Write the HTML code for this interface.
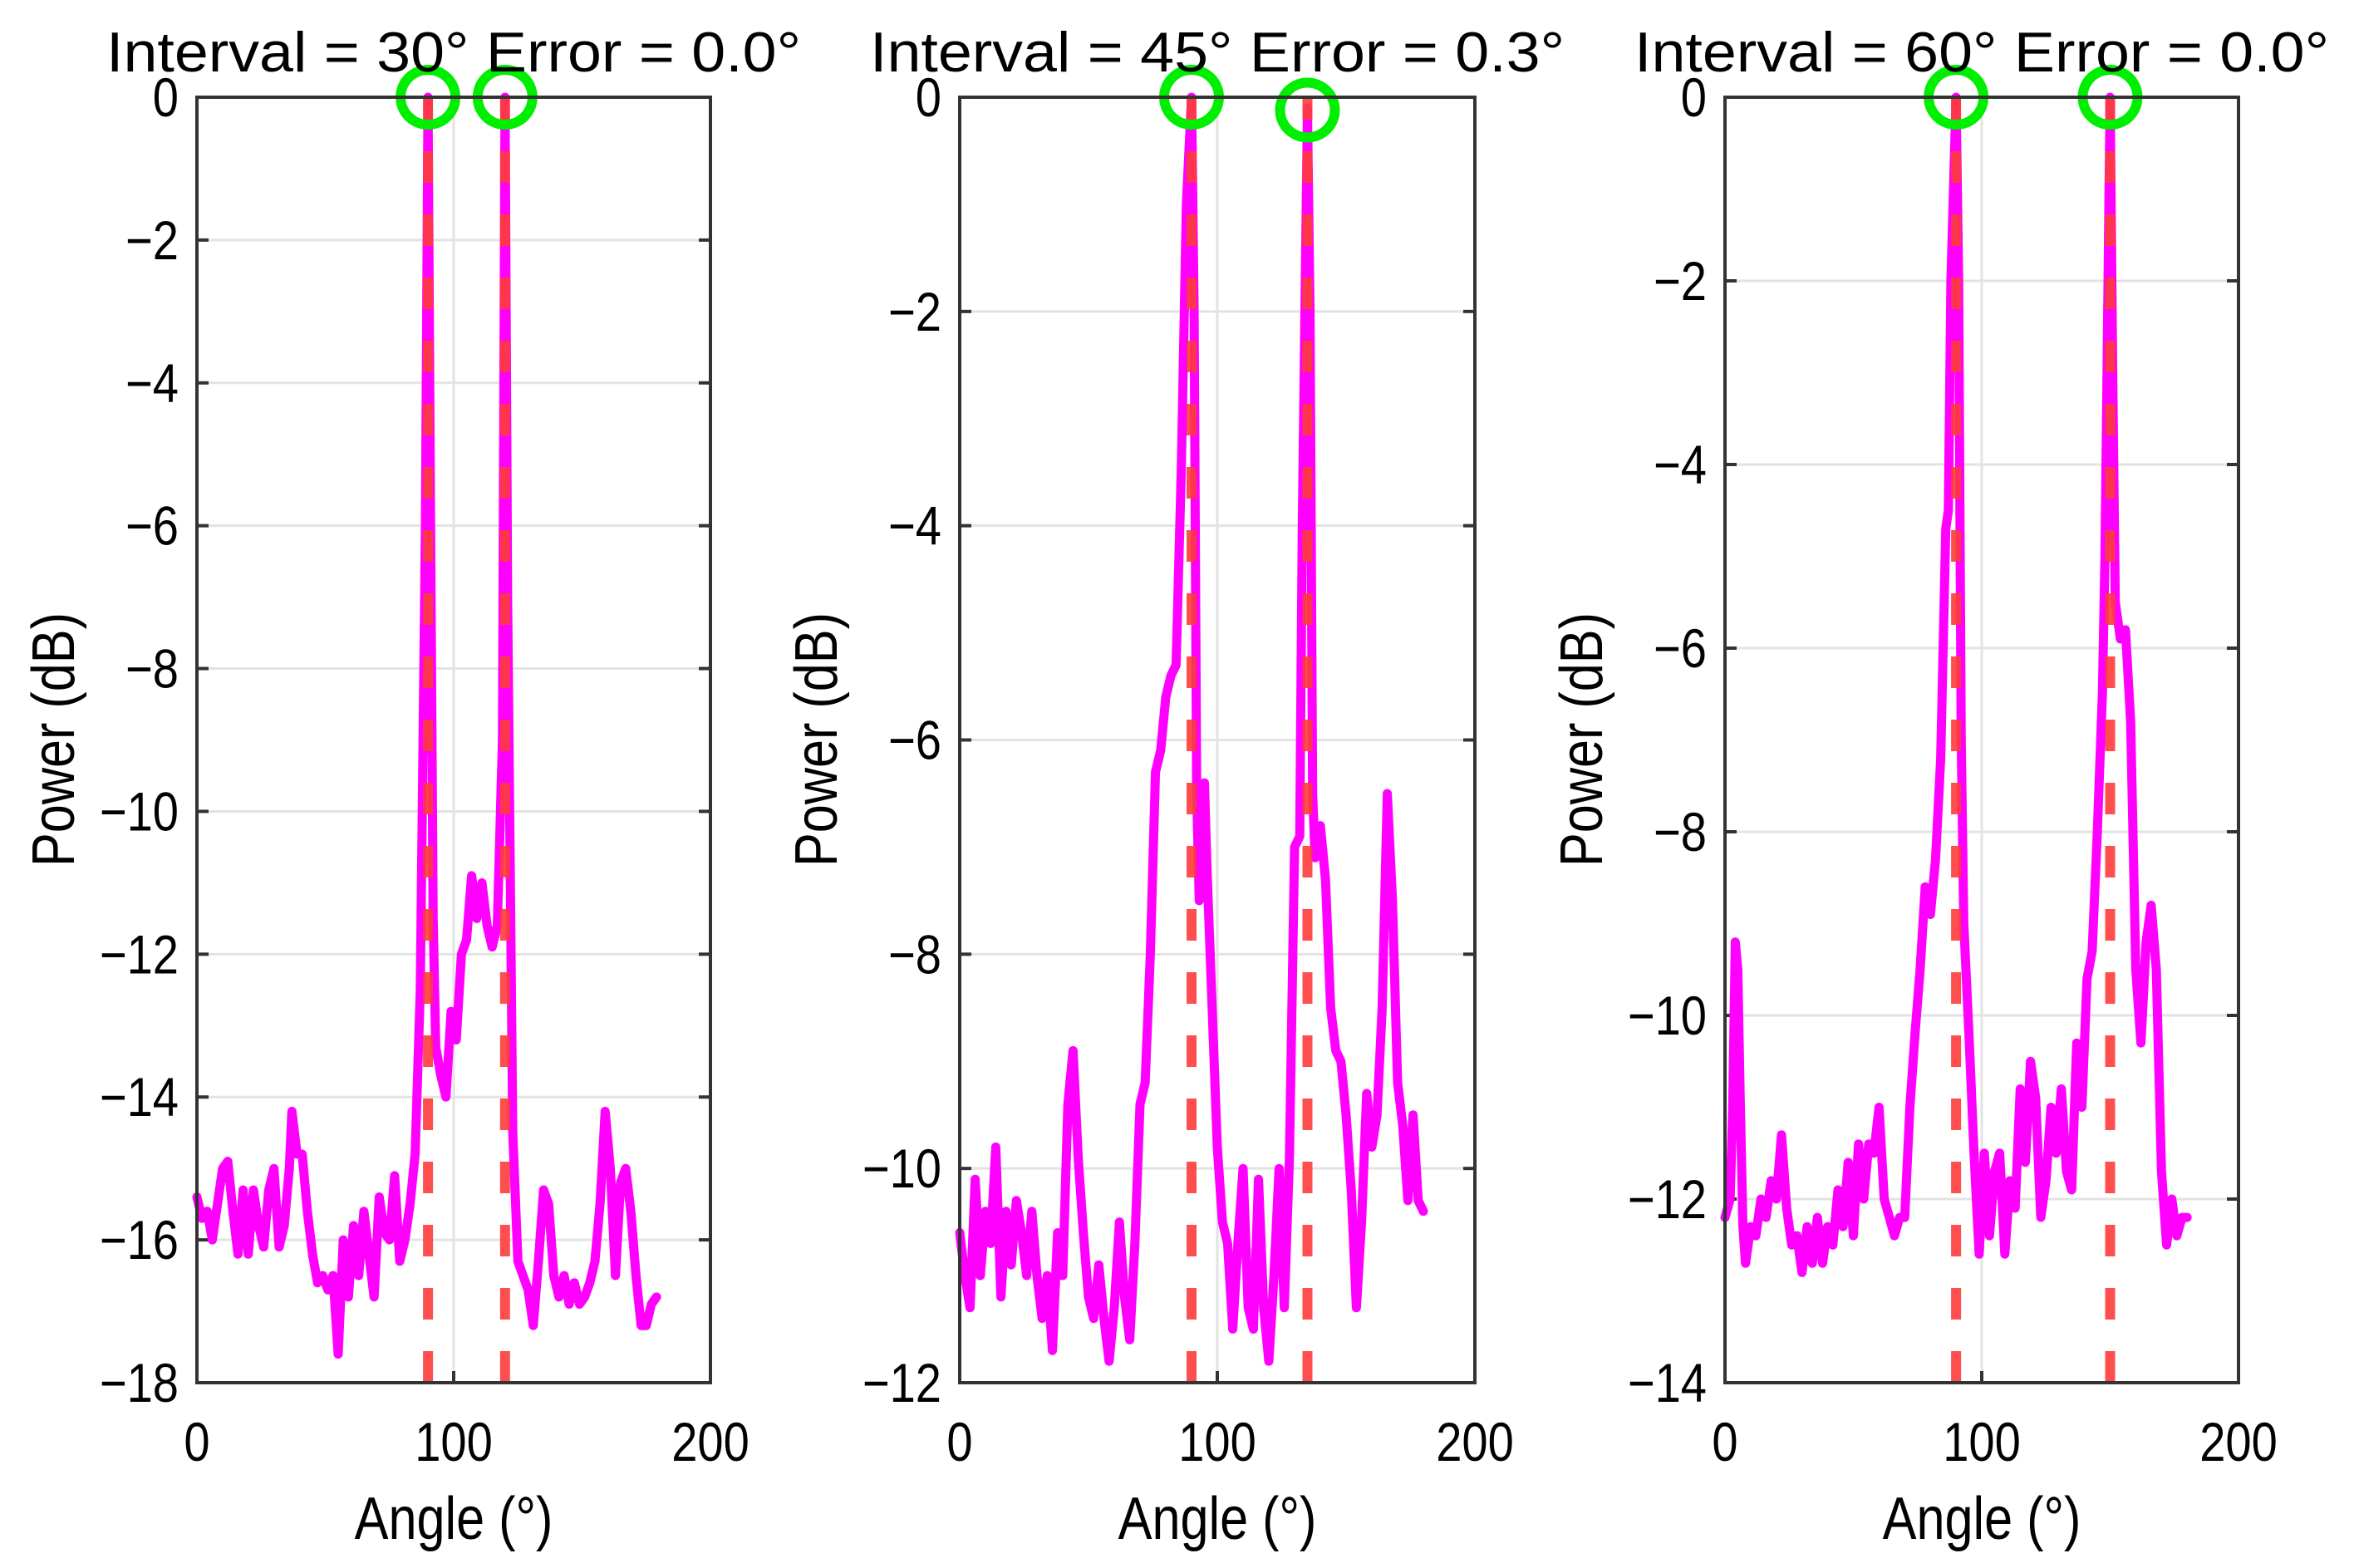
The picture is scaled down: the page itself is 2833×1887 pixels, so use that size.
<!DOCTYPE html>
<html><head><meta charset="utf-8"><style>
html,body{margin:0;padding:0;background:#fff;}
svg{display:block;}
text{font-family:"Liberation Sans",Arial,sans-serif;fill:#000;}
</style></head>
<body>
<svg id="fig" width="2833" height="1887" viewBox="0 0 2833 1887" xmlns="http://www.w3.org/2000/svg"></svg>
<script>
// ---- data ----
const xTicks = [0, 100, 200];
const titles = ["Interval = 30°  Error = 0.0°", "Interval = 45°  Error = 0.3°", "Interval = 60°  Error = 0.0°"];
const yMins = [-18, -12, -14];
const trueAngles1 = [90, 120];
const trueAngles2 = [90, 135];
const trueAngles3 = [90, 150];
const estAngles1 = [90, 120];
const estPower1 = [0, 0];
const estAngles2 = [90, 135];
const estPower2 = [0, -0.12];
const estAngles3 = [90, 150];
const estPower3 = [0, 0];
const ang1 = [0,2,4,6,8,10,12,14,16,18,20,22,24,26,28,30,32,34,36,37,39,41,43,45,47,49,51,53,55,57,59,61,63,65,67,69,71,73,75,77,79,81,83,85,87,89,90,91,92,93,95,97,99,101,103,105,107,109,111,113,115,117,119,120,121,123,125,127,129,131,133,135,137,139,141,143,145,147,149,151,153,155,157,159,161,163,165,167,169,171,173,175,177,179];
const pow1 = [-15.4,-15.7,-15.6,-16.0,-15.5,-15.0,-14.9,-15.6,-16.2,-15.3,-16.2,-15.3,-15.8,-16.1,-15.3,-15.0,-16.1,-15.8,-15.0,-14.2,-14.8,-14.8,-15.6,-16.2,-16.6,-16.5,-16.7,-16.5,-17.6,-16.0,-16.8,-15.8,-16.5,-15.6,-16.2,-16.8,-15.4,-15.9,-16.0,-15.1,-16.3,-16.0,-15.5,-14.8,-12.5,-6,0,-6,-11.5,-13.3,-13.7,-14.0,-12.8,-13.2,-12.0,-11.8,-10.9,-11.5,-11.0,-11.6,-11.9,-11.6,-9,0,-7,-14.5,-16.3,-16.5,-16.7,-17.2,-16.3,-15.3,-15.5,-16.5,-16.8,-16.5,-16.9,-16.6,-16.9,-16.8,-16.6,-16.3,-15.5,-14.2,-15.0,-16.5,-15.2,-15.0,-15.6,-16.5,-17.2,-17.2,-16.9,-16.8];
const ang2 = [0,2,4,6,8,10,12,14,16,18,20,22,24,26,28,30,32,34,36,38,40,42,44,46,48,50,52,54,56,58,60,62,64,66,68,70,72,74,76,78,80,82,84,86,88,90,91,92,93,94,95,96,98,100,102,104,106,108,110,112,114,116,118,120,122,124,126,128,130,132,133,135,136,137,138,140,142,144,146,148,150,152,154,156,158,160,162,164,166,168,170,172,174,176,178,180];
const pow2 = [-10.6,-11.0,-11.3,-10.1,-11.0,-10.4,-10.7,-9.8,-11.2,-10.4,-10.9,-10.3,-10.6,-11.0,-10.4,-11.0,-11.4,-11.0,-11.7,-10.6,-11.0,-9.4,-8.9,-9.9,-10.6,-11.2,-11.4,-10.9,-11.4,-11.8,-11.3,-10.5,-11.2,-11.6,-10.7,-9.4,-9.2,-8.0,-6.3,-6.1,-5.6,-5.4,-5.3,-3.5,-1,0,-2,-6.5,-7.5,-6.7,-6.4,-7.2,-8.5,-9.8,-10.5,-10.7,-11.5,-10.7,-10.0,-11.3,-11.5,-10.1,-11.3,-11.8,-11.0,-10.0,-11.3,-9.9,-7.0,-6.9,-4,-0.1,-2,-6.5,-7.1,-6.8,-7.3,-8.5,-8.9,-9.0,-9.5,-10.2,-11.3,-10.5,-9.3,-9.8,-9.5,-8.5,-6.5,-7.5,-9.2,-9.6,-10.3,-9.5,-10.3,-10.4];
const ang3 = [0,2,3,4,5,6,7,8,10,12,14,16,18,20,22,24,26,28,30,32,34,36,38,40,42,44,46,48,50,52,54,56,58,60,62,64,66,68,70,72,74,76,78,80,82,84,86,87,88,90,91,92,93,95,97,99,101,103,105,107,109,111,113,115,117,119,121,123,125,127,129,131,133,135,137,139,141,143,145,147,148,150,151,152,154,156,158,160,162,164,166,168,170,172,174,176,178,180];
const pow3 = [-12.2,-12.0,-11,-9.2,-9.5,-11,-12.3,-12.7,-12.3,-12.4,-12.0,-12.2,-11.8,-12.0,-11.3,-12.1,-12.5,-12.4,-12.8,-12.3,-12.7,-12.2,-12.7,-12.3,-12.5,-11.9,-12.3,-11.6,-12.4,-11.4,-12.0,-11.4,-11.5,-11.0,-12.0,-12.2,-12.4,-12.2,-12.2,-11.0,-10.2,-9.5,-8.6,-8.9,-8.3,-7.2,-4.7,-4.5,-2,0,-2,-7,-9.0,-10.2,-11.5,-12.6,-11.5,-12.4,-11.7,-11.5,-12.6,-11.8,-12.1,-10.8,-11.6,-10.5,-10.9,-12.2,-11.8,-11.0,-11.5,-10.8,-11.7,-11.9,-10.3,-11.0,-9.6,-9.3,-8.0,-6.5,-5,0,-3,-5.5,-5.9,-5.8,-6.8,-9.5,-10.3,-9.2,-8.8,-9.5,-11.7,-12.5,-12.0,-12.4,-12.2,-12.2];

const panels = [
  {L:237,R:855,ang:ang1,pow:pow1,tr:trueAngles1,ea:estAngles1,ep:estPower1},
  {L:1155,R:1775,ang:ang2,pow:pow2,tr:trueAngles2,ea:estAngles2,ep:estPower2},
  {L:2076,R:2694,ang:ang3,pow:pow3,tr:trueAngles3,ea:estAngles3,ep:estPower3}
];
const T=117, B=1664;
const NS="http://www.w3.org/2000/svg";
const svg=document.getElementById('fig');
function mk(tag,attrs,parent){const e=document.createElementNS(NS,tag);for(const k in attrs)e.setAttribute(k,attrs[k]);(parent||svg).appendChild(e);return e;}
function txt(parent,x,y,size,anchor,str,rot){
  const tr='translate('+x+' '+y+')'+(rot?' rotate(-90)':'')+' scale(0.85 1)';
  const t=mk('text',{x:0,y:0,'font-size':size,'text-anchor':anchor,transform:tr},parent);
  t.textContent=str;
  return t;
}

panels.forEach((p,i)=>{
  const g=mk('g',{});
  
  
  const ymin=yMins[i];
  const xs=v=>p.L+(v-0)/200*(p.R-p.L);
  const ys=v=>T+(0-v)/(0-ymin)*(B-T);
  for(let v=0; v>=ymin; v-=2){
    const y=ys(v);
    const gl=mk('line',{x1:p.L,x2:p.R,y1:y,y2:y,stroke:'#e3e3e3','stroke-width':3},g);
    
    
    mk('line',{x1:p.L,x2:p.L+14,y1:y,y2:y,stroke:'#333','stroke-width':4},g);
    mk('line',{x1:p.R-14,x2:p.R,y1:y,y2:y,stroke:'#333','stroke-width':4},g);
    const t=txt(g,p.L-22,y+23,66,'end',(v<0?'\u2212':'')+Math.abs(v));
    
    
  }
  xTicks.forEach(v=>{
    const x=xs(v);
    if(v>0&&v<200){
      const gl=mk('line',{x1:x,x2:x,y1:T,y2:B,stroke:'#e3e3e3','stroke-width':3},g);
      
      
    }
    mk('line',{x1:x,x2:x,y1:B-14,y2:B,stroke:'#333','stroke-width':4},g);
    mk('line',{x1:x,x2:x,y1:T,y2:T+14,stroke:'#333','stroke-width':4},g);
    const t=txt(g,x,B+94,66,'middle',String(v));
    
    
  });
  const pts=p.ang.map((a,k)=>xs(a).toFixed(1)+','+ys(p.pow[k]).toFixed(1)).join(' ');
  const pl=mk('polyline',{points:pts,fill:'none',stroke:'#ff00ff','stroke-width':11,'stroke-linejoin':'round','stroke-linecap':'round'},g);
  
  
  p.tr.forEach(a=>{
    const l=mk('line',{x1:xs(a),x2:xs(a),y1:B,y2:T,stroke:'#ff3b3b','stroke-opacity':0.9,'stroke-width':12,'stroke-dasharray':'38 38'},g);
    
    
  });
  p.ea.forEach((a,k)=>{
    const c=mk('circle',{cx:xs(a),cy:ys(p.ep[k]),r:33,fill:'none',stroke:'#00ee00','stroke-width':12},g);
    
    
  });
  const box=mk('rect',{x:p.L,y:T,width:p.R-p.L,height:B-T,fill:'none',stroke:'#333','stroke-width':4},g);
  
  
  const cx=(p.L+p.R)/2;
  const tt=mk('text',{x:cx,y:86,'font-size':68,'text-anchor':'middle','textLength':836,'lengthAdjust':'spacingAndGlyphs'},g);
  tt.textContent=titles[i];
  
  
  const xl=txt(g,cx,1852,72,'middle','Angle (°)');
  
  
  const yl=txt(g,p.L-148,890,72,'middle','Power (dB)',true);
  
  
});
</script>
</body></html>
